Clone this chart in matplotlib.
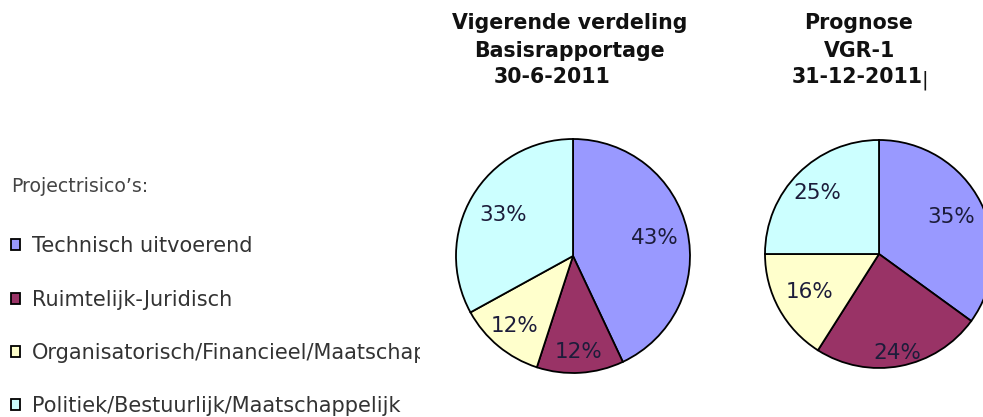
import matplotlib.pyplot as plt
import numpy as np
from matplotlib.transforms import Bbox

# Data
CATEGORIES = [
    "Technisch uitvoerend",
    "Ruimtelijk-Juridisch",
    "Organisatorisch/Financieel/Maatschappelijk",
    "Politiek/Bestuurlijk/Maatschappelijk",
]
SHARE_BASIS = [43, 12, 12, 33]      # Vigerende verdeling 30-6-2011
SHARE_PROGNOSE = [35, 24, 16, 25]   # Prognose VGR-1 31-12-2011
TITLE_BASIS = ["Vigerende verdeling", "Basisrapportage", "30-6-2011"]
TITLE_PROGNOSE = ["Prognose", "VGR-1", "31-12-2011"]
LEGEND_TITLE = "Projectrisico\u2019s:"

COLORS = ["#9999FF", "#993366", "#FFFFCC", "#CCFFFF"]
W, H = 983, 417


def px_axes(fig, cx, cy, r):
    # axes that exactly hold a circle of radius r (pixels), centre (cx, cy) from top-left
    return fig.add_axes([(cx - r) / W, (H - cy - r) / H, 2 * r / W, 2 * r / H])


def draw_pie(ax, values, label_dist):
    wedges, _, autotexts = ax.pie(
        values, colors=COLORS, startangle=90, counterclock=False,
        autopct="%d%%", pctdistance=0.75,
        wedgeprops=dict(edgecolor="black", linewidth=1.3),
        textprops=dict(fontsize=15.5, color="#1c1c3a"),
    )
    for w, t, d in zip(wedges, autotexts, label_dist):
        ang = np.deg2rad((w.theta1 + w.theta2) / 2)
        t.set_position((d * np.cos(ang), d * np.sin(ang)))
    ax.set_xlim(-1, 1)
    ax.set_ylim(-1, 1)
    ax.set_aspect("auto")
    return wedges


fig = plt.figure(figsize=(W / 100, H / 100), dpi=100)

ax1 = px_axes(fig, 573, 256, 117)
wedges = draw_pie(ax1, SHARE_BASIS, [0.72, 0.82, 0.78, 0.69])
ax2 = px_axes(fig, 879, 254, 114)
draw_pie(ax2, SHARE_PROGNOSE, [0.71, 0.88, 0.70, 0.76])

# titles (each line placed like in the original)
for lines, xs in [(TITLE_BASIS, [570, 569, 552]), (TITLE_PROGNOSE, [859, 860, 857.5])]:
    for line, x, y in zip(lines, xs, [29, 57, 83]):
        fig.text(x / W, 1 - y / H, line, ha="center", va="baseline",
                 fontsize=14.8, fontweight="bold", color="#111111")
# text cursor after the date
fig.text(922 / W, 1 - 85 / H, "|", ha="left", va="baseline", fontsize=14, color="#111111")

# legend, clipped where the chart area starts
ax_leg = fig.add_axes([0, 0, 420 / W, 1])
ax_leg.axis("off")
leg = ax_leg.legend(
    wedges, CATEGORIES, title=LEGEND_TITLE, loc="upper left",
    bbox_to_anchor=(11 / 420, 1 - 177 / H), frameon=False,
    fontsize=15, title_fontsize=13.6, alignment="left",
    handlelength=0.42, handleheight=0.42, handletextpad=0.6,
    labelspacing=1.6, borderpad=0.0, borderaxespad=0.0,
)
leg.get_title().set_color("#444444")
for t in leg.get_texts():
    t.set_color("#333333")
    t.set_clip_on(True)
    t.set_clip_box(Bbox.from_extents(0, 0, 420, H))
for hnd in leg.legend_handles:
    hnd.set_linewidth(1.3)
leg._legend_box.sep = 29

fig.savefig("out.png", dpi=100)
